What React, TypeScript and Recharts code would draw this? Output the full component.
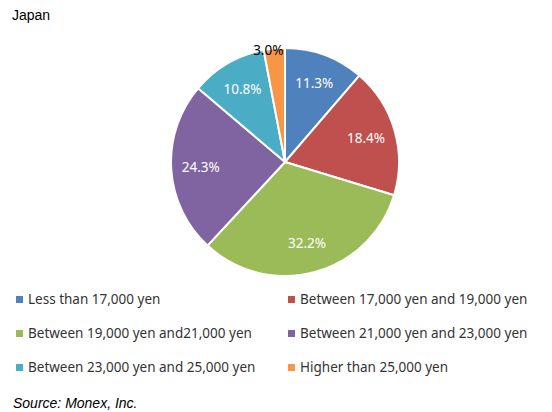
import React from 'react';
import { PieChart, Pie, Cell, Legend } from 'recharts';

const categories = [
  'Less than 17,000 yen',
  'Between 17,000 yen and 19,000 yen',
  'Between 19,000 yen and21,000 yen',
  'Between 21,000 yen and 23,000 yen',
  'Between 23,000 yen and 25,000 yen',
  'Higher than 25,000 yen',
];
const shares = [11.3, 18.4, 32.2, 24.3, 10.8, 3.0];
const colors = ['#4F81BD', '#C0504D', '#9BBB59', '#8064A2', '#4BACC6', '#F79646'];

const data = categories.map((name, i) => ({ name, value: shares[i] }));

const FONT = '"Noto Sans", "Noto Sans CJK JP", sans-serif';
const RAD = Math.PI / 180;

const renderLabel = (props: any) => {
  const { cx, cy, midAngle, outerRadius, value } = props;
  const small = value < 5;
  const r = small ? outerRadius : outerRadius * 0.74;
  // the tiny slice's label sits just over its outer edge, nudged left
  const x = cx + r * Math.cos(-midAngle * RAD) + (small ? -6 : 0);
  const y = cy + r * Math.sin(-midAngle * RAD) + (small ? 1 : 0);
  return (
    <text
      x={x}
      y={y}
      fill={small ? '#000' : '#fff'}
      textAnchor="middle"
      dominantBaseline="central"
      fontSize={13.5}
      fontFamily={FONT}
    >
      {value.toFixed(1)}%
    </text>
  );
};

const renderLegend = () => (
  <div
    style={{
      display: 'grid',
      gridTemplateColumns: '272px 272px',
      fontFamily: FONT,
      fontSize: 13.5,
      color: '#333',
    }}
  >
    {data.map((d, i) => (
      <div key={d.name} style={{ display: 'flex', alignItems: 'center', height: 34, paddingLeft: 16, whiteSpace: 'nowrap' }}>
        <span style={{ width: 7, height: 7, background: colors[i], marginRight: 5, display: 'inline-block' }} />
        <span>{d.name}</span>
      </div>
    ))}
  </div>
);

export default function App() {
  return (
    <div style={{ position: 'absolute', left: 0, top: 0, width: 552, height: 412, background: '#fff' }}>
      <div style={{ position: 'absolute', left: 12, top: 7, fontFamily: 'Arial, "Liberation Sans", sans-serif', fontSize: 14, color: '#000' }}>
        Japan
      </div>
      <PieChart width={552} height={412}>
        <Pie
          data={data}
          dataKey="value"
          nameKey="name"
          cx={280}
          cy={157}
          outerRadius={114}
          startAngle={90}
          endAngle={-270}
          stroke="#fff"
          strokeWidth={2}
          label={renderLabel}
          labelLine={false}
          isAnimationActive={false}
        >
          {data.map((d, i) => (
            <Cell key={d.name} fill={colors[i]} />
          ))}
        </Pie>
        <Legend content={renderLegend} wrapperStyle={{ position: 'absolute', left: 0, top: 282, width: 552 }} />
      </PieChart>
      <div style={{ position: 'absolute', left: 13, top: 395, fontFamily: '"Liberation Sans", Arial, sans-serif', fontStyle: 'italic', fontSize: 14, color: '#000' }}>
        Source: Monex, Inc.
      </div>
    </div>
  );
}
